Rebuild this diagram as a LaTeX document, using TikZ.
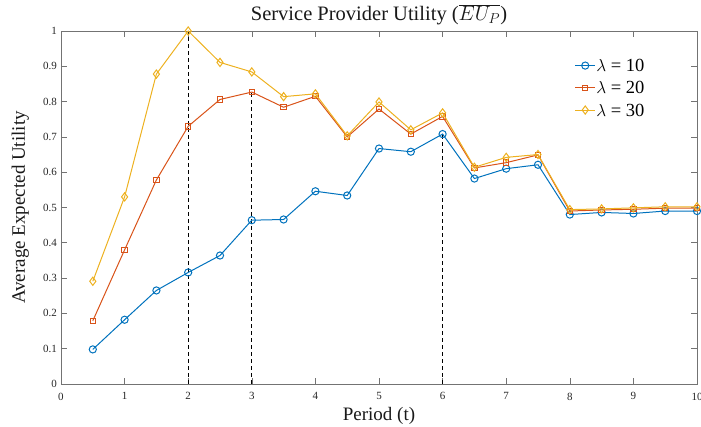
\documentclass[tikz,border=0pt]{standalone}
\usepackage{fontspec}
\setmainfont{Liberation Serif}
\usetikzlibrary{plotmarks}
\definecolor{mblue}{rgb}{0,0.447,0.741}
\definecolor{mred}{rgb}{0.85,0.325,0.098}
\definecolor{myellow}{rgb}{0.929,0.694,0.125}

\begin{document}
\begin{tikzpicture}[x=63.6pt, y=353pt,
        axisline/.style={black!55, line width=0.6pt},
        ticklabel/.style={font=\fontsize{11}{13}\selectfont, text=black!85, inner sep=1pt},
        bigtext/.style={font=\fontsize{19}{22}\selectfont, text=black!90, inner sep=0pt},
        legtext/.style={font=\fontsize{18.5}{21}\selectfont, text=black, inner sep=1pt, anchor=west},
        guide/.style={black, dash pattern=on 4pt off 3pt, line width=0.9pt},
        lamten/.style={mblue, line width=1pt, mark=o, mark size=3.6pt},
        lamtwenty/.style={mred, line width=1pt, mark=square, mark size=2.7pt},
        lamthirty/.style={myellow, line width=1pt, mark=diamond, mark size=4.1pt}]
        \useasboundingbox (-61pt,-43pt) rectangle (640pt,384pt);
        % axes box and ticks
        \draw[axisline] (0,0) rectangle (10,1);
        \foreach \t in {1,...,9} {
            \draw[axisline] (\t,0) -- ++(0,6pt);
            \draw[axisline] (\t,1) -- ++(0,-6pt);
        }
        \foreach \k in {1,...,9} {
            \draw[axisline] (0,\k/10) -- ++(6pt,0);
            \draw[axisline] (10,\k/10) -- ++(-6pt,0);
        }
        \foreach \t in {0,...,10}
            \node[ticklabel, below=7.5pt] (xt\t) at (\t,0) {\t};
        \foreach \k/\lab in {0/0, 1/0.1, 2/0.2, 3/0.3, 4/0.4, 5/0.5, 6/0.6, 7/0.7, 8/0.8, 9/0.9, 10/1}
            \node[ticklabel, anchor=east] (yt\k) at ([xshift=-3pt]0,\k/10) {\lab};
        \node[bigtext, anchor=base, font=\fontsize{20.5}{24}\selectfont] (title) at (5,1.029) {Service Provider Utility ($\overline{EU_P}$)};
        \node[bigtext, anchor=base] (xlab) at ([yshift=-36.7pt]5,0) {Period (t)};
        \node[bigtext, anchor=base, rotate=90] (ylab) at ([xshift=-36pt]0,0.5) {Average Expected Utility};
        % peaks
        \draw[guide] (2,0) -- (2,1);
        \draw[guide] (3,0) -- (3,0.827);
        \draw[guide] (6,0) -- (6,0.708);
        % curves
        \draw[lamten] plot coordinates {(0.5,0.098) (1,0.182) (1.5,0.265) (2,0.316) (2.5,0.364)
            (3,0.464) (3.5,0.466) (4,0.546) (4.5,0.534) (5,0.667) (5.5,0.658) (6,0.708)
            (6.5,0.582) (7,0.610) (7.5,0.621) (8,0.480) (8.5,0.486) (9,0.483) (9.5,0.490) (10,0.490)};
        \draw[lamtwenty] plot coordinates {(0.5,0.179) (1,0.380) (1.5,0.578) (2,0.730) (2.5,0.806)
            (3,0.827) (3.5,0.784) (4,0.815) (4.5,0.700) (5,0.779) (5.5,0.708) (6,0.758)
            (6.5,0.612) (7,0.627) (7.5,0.649) (8,0.490) (8.5,0.493) (9,0.495) (9.5,0.498) (10,0.498)};
        \draw[lamthirty] plot coordinates {(0.5,0.291) (1,0.530) (1.5,0.878) (2,1.0) (2.5,0.911)
            (3,0.884) (3.5,0.814) (4,0.822) (4.5,0.703) (5,0.799) (5.5,0.720) (6,0.768)
            (6.5,0.614) (7,0.642) (7.5,0.650) (8,0.494) (8.5,0.496) (9,0.499) (9.5,0.502) (10,0.502)};
        % legend
        \node[legtext] (leg10) at (8.40,0.902) {$\lambda$ = 10};
        \node[legtext] (leg20) at (8.40,0.839) {$\lambda$ = 20};
        \node[legtext] (leg30) at (8.40,0.776) {$\lambda$ = 30};
        \draw[mblue, line width=1pt] ([xshift=-20pt]leg10.west) -- (leg10.west);
        \draw[mred, line width=1pt] ([xshift=-20pt]leg20.west) -- (leg20.west);
        \draw[myellow, line width=1pt] ([xshift=-20pt]leg30.west) -- (leg30.west);
        \draw[lamten] plot coordinates {([xshift=-10pt]leg10.west)};
        \draw[lamtwenty] plot coordinates {([xshift=-10pt]leg20.west)};
        \draw[lamthirty] plot coordinates {([xshift=-10pt]leg30.west)};
    \end{tikzpicture}
\end{document}
